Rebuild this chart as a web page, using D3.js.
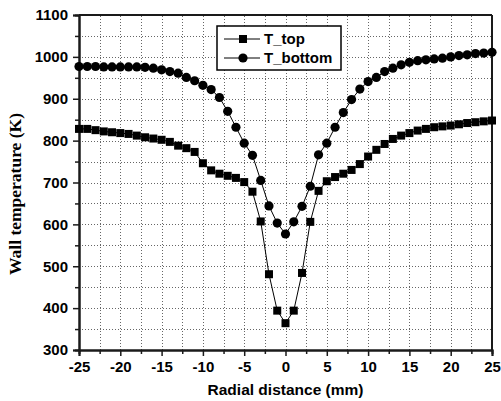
<!DOCTYPE html>
<html><head><meta charset="utf-8">
<script src="https://cdn.jsdelivr.net/npm/d3@7"></script>
<style>body{margin:0;background:#fff}svg{display:block}</style>
</head><body><svg id="c" width="501" height="401"></svg>
<script>
const radialDistance = [-25,-24,-23,-22,-21,-20,-19,-18,-17,-16,-15,-14,-13,-12,-11,-10,-9,-8,-7,-6,-5,-4,-3,-2,-1,0,1,2,3,4,5,6,7,8,9,10,11,12,13,14,15,16,17,18,19,20,21,22,23,24,25];
const tTop = [828,828,825,822,820,818,816,812,808,805,802,797,788,782,773,746,729,721,716,711,701,678,607,481,394,364,394,484,606,680,703,713,721,730,744,762,778,792,804,812,818,824,828,832,834,836,839,842,844,846,848];
const tBottom = [977,977,977,976,976,976,976,976,975,973,969,965,961,951,943,932,922,903,870,832,794,765,705,644,603,577,606,643,691,766,794,832,867,898,923,941,951,965,973,981,987,991,993,995,997,1000,1003,1005,1008,1009,1011];
const xTicks = [-25,-20,-15,-10,-5,0,5,10,15,20,25];
const yTicks = [300,400,500,600,700,800,900,1000,1100];
const seriesNames = ["T_top","T_bottom"];

const W = 501, H = 401;
const m = {left:79, right:9, top:15, bottom:51};
const svg = d3.select("#c");
const x = d3.scaleLinear().domain([-25,25]).range([m.left, W-m.right]);
const y = d3.scaleLinear().domain([300,1100]).range([H-m.bottom, m.top]);
const axisColor = "#1a1a1a";
const px = v => Math.round(v) + 0.5;

// grid
const gx = d3.range(-22.5, 25, 2.5);
const gy = d3.range(350, 1100, 50);
const grid = svg.append("g").attr("class", "grid");
grid.selectAll("line.v").data(gx).enter().append("line").attr("class", "v")
  .attr("x1", d=>px(x(d))).attr("x2", d=>px(x(d))).attr("y1", y(300)).attr("y2", y(1100));
grid.selectAll("line.h").data(gy).enter().append("line").attr("class", "h")
  .attr("y1", d=>px(y(d))).attr("y2", d=>px(y(d))).attr("x1", x(-25)).attr("x2", x(25));
grid.selectAll("line").attr("stroke", "#666").attr("stroke-width", 1).attr("stroke-dasharray", "1 2");

// axes
const font = "'Liberation Sans', Arial, sans-serif";
const fmt = d => String(d);
const xAxis = svg.append("g").attr("transform", `translate(0,${y(300)})`)
  .call(d3.axisBottom(x).tickValues(xTicks).tickFormat(fmt).tickSize(6).tickPadding(5));
const yAxis = svg.append("g").attr("transform", `translate(${x(-25)},0)`)
  .call(d3.axisLeft(y).tickValues(yTicks).tickFormat(fmt).tickSize(6).tickPadding(5));
const xMinor = svg.append("g").attr("transform", `translate(0,${y(300)})`)
  .call(d3.axisBottom(x).tickValues(gx.filter(v=>v%5!==0)).tickFormat("").tickSize(4));
const yMinor = svg.append("g").attr("transform", `translate(${x(-25)},0)`)
  .call(d3.axisLeft(y).tickValues(gy.filter(v=>v%100!==0)).tickFormat("").tickSize(4));
[xAxis,yAxis,xMinor,yMinor].forEach(g=>{
  g.attr("font-family", font).attr("font-size", 15).attr("font-weight", "bold");
  g.select(".domain").attr("stroke", axisColor).attr("stroke-width", 2);
  g.selectAll(".tick line").attr("stroke", axisColor).attr("stroke-width", 1.5);
  g.selectAll(".tick text").attr("fill", "#000")
    .attr("font-family", font).attr("font-size", 15).attr("font-weight", "bold");
});
// frame top & right
svg.append("line").attr("x1", x(-25)).attr("x2", x(25)).attr("y1", y(1100)).attr("y2", y(1100))
  .attr("stroke", axisColor).attr("stroke-width", 2);
svg.append("line").attr("x1", x(25)).attr("x2", x(25)).attr("y1", y(1100)).attr("y2", y(300))
  .attr("stroke", axisColor).attr("stroke-width", 2);

// titles
svg.append("text").attr("x", (x(-25)+x(25))/2).attr("y", 395).attr("text-anchor", "middle")
  .attr("font-family", font).attr("font-size", 15.5).attr("font-weight", "bold")
  .text("Radial distance (mm)");
svg.append("text").attr("transform", `translate(21,${(113+275)/2}) rotate(-90)`).attr("text-anchor", "middle")
  .attr("font-family", "'Liberation Serif', 'Times New Roman', serif").attr("font-size", 17.5).attr("font-weight", "bold")
  .text("Wall temperature (K)");

// series
const line = d3.line().x(d=>x(d[0])).y(d=>y(d[1]));
const topPts = radialDistance.map((r,i)=>[r,tTop[i]]);
const botPts = radialDistance.map((r,i)=>[r,tBottom[i]]);
svg.append("path").datum(topPts).attr("d", line).attr("fill","none").attr("stroke","#000").attr("stroke-width",1);
svg.append("path").datum(botPts).attr("d", line).attr("fill","none").attr("stroke","#000").attr("stroke-width",1);
const sq = 8;
svg.append("g").selectAll("rect").data(topPts).join("rect")
  .attr("x", d=>x(d[0])-sq/2).attr("y", d=>y(d[1])-sq/2).attr("width", sq).attr("height", sq).attr("fill","#000");
svg.append("g").selectAll("circle").data(botPts).join("circle")
  .attr("cx", d=>x(d[0])).attr("cy", d=>y(d[1])).attr("r", 4.6).attr("fill","#000");

// legend
const lg = svg.append("g");
lg.append("rect").attr("x", 217).attr("y", 26).attr("width", 124).attr("height", 44)
  .attr("fill","#fff").attr("stroke","#000").attr("stroke-width",1.5);
seriesNames.forEach((name,i)=>{
  const cy = 39 + i*19;
  lg.append("line").attr("x1",224).attr("x2",260).attr("y1",cy).attr("y2",cy).attr("stroke","#000").attr("stroke-width",1);
  if(i===0) lg.append("rect").attr("x",243-sq/2).attr("y",cy-sq/2).attr("width",sq).attr("height",sq).attr("fill","#000");
  else lg.append("circle").attr("cx",243).attr("cy",cy).attr("r",4.6).attr("fill","#000");
  lg.append("text").attr("x",264).attr("y",cy+5).attr("font-family",font).attr("font-size",15).attr("font-weight","bold").text(name);
});
</script></body></html>
